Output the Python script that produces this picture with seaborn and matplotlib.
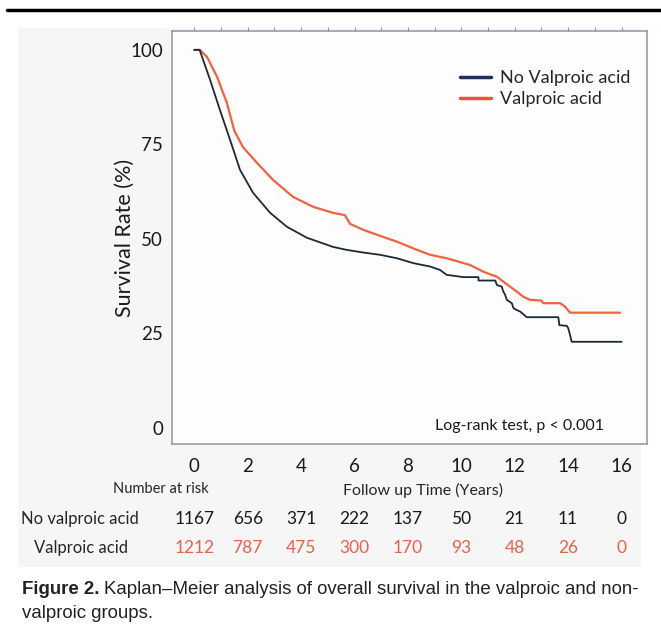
import numpy as np
import pandas as pd
import seaborn as sns
import matplotlib.pyplot as plt
from matplotlib.lines import Line2D
from matplotlib.patches import Rectangle

# curve corners (years, survival %)
t_no = [0, 0.2, 0.59, 0.96, 1.34, 1.71, 2.2, 2.84, 3.47, 4.22, 5.19, 5.71, 6.33, 6.96,
        7.58, 8.2, 8.83, 9.2, 9.45, 10.08, 10.64, 10.64, 11.27, 11.33, 11.51, 11.57, 11.64,
        11.7, 11.89, 11.95, 12.07, 12.2, 12.45, 13.63, 13.67, 13.95, 14.0, 14.07, 14.13, 16.0]
s_no = [100, 100, 92.1, 84.1, 76.2, 68.3, 62.2, 56.9, 53.2, 50.3, 47.9, 47.1, 46.4, 45.8,
        44.9, 43.6, 42.7, 41.8, 40.5, 39.9, 39.9, 39.0, 39.0, 37.8, 37.4, 36.1, 35.2,
        33.9, 33.0, 31.7, 31.2, 30.8, 29.3, 29.3, 27.2, 27.0, 26.4, 24.6, 22.8, 22.8]

t_vpa = [0, 0.21, 0.48, 0.85, 1.22, 1.5, 1.82, 2.35, 2.95, 3.7, 4.45, 5.19, 5.64, 5.83,
         6.33, 6.96, 7.58, 8.2, 8.83, 9.45, 10.08, 10.33, 10.83, 11.33, 11.57, 11.82, 12.07,
         12.32, 12.57, 13.0, 13.07, 13.7, 13.88, 14.07, 15.94]
s_vpa = [100, 100, 98.1, 92.9, 86.0, 78.6, 74.3, 70.1, 65.6, 61.1, 58.5, 56.9, 56.3, 54.0,
         52.4, 50.8, 49.3, 47.5, 45.8, 44.9, 43.6, 43.1, 41.3, 40.0, 38.7, 37.4, 36.1,
         34.7, 33.9, 33.7, 33.0, 33.0, 32.1, 30.5, 30.5]

risk_times = [0, 2, 4, 6, 8, 10, 12, 14, 16]
risk_no = [1167, 656, 371, 222, 137, 50, 21, 11, 0]
risk_vpa = [1212, 787, 475, 300, 170, 93, 48, 26, 0]

df_no = pd.DataFrame({'t': t_no, 's': s_no})
df_vpa = pd.DataFrame({'t': t_vpa, 's': s_vpa})

sns.set_style('white')
plt.rcParams['font.family'] = ['Lato', 'DejaVu Sans']

fig = plt.figure(figsize=(6.61, 6.27), dpi=100)
fig.add_artist(Rectangle((18 / 661, 1 - 566 / 627), 622 / 661, 538 / 627,
                         transform=fig.transFigure, color='#f6f6f6', zorder=0))
fig.add_artist(Line2D([7 / 661, 1], [1 - 10 / 627] * 2, transform=fig.transFigure,
                      color='black', lw=2.5))

ax = fig.add_axes([0.2602, 0.2919, 0.7182, 0.6587])
ax.set_facecolor('#fdfdfd')

c_no = '#1d2a36'
c_vpa = '#f0633f'
sns.lineplot(data=df_vpa, x='t', y='s', sort=False, estimator=None, color=c_vpa, lw=1.6, ax=ax)
sns.lineplot(data=df_no, x='t', y='s', sort=False, estimator=None, color=c_no, lw=1.3, ax=ax)

ax.set_xlim(-0.835, 16.94)
ax.set_ylim(-4.23, 105.0)
ax.set_xticks(risk_times)
ax.set_xticks(range(0, 17), minor=True)
ax.set_yticks([0, 25, 50, 75, 100])
ax.set_yticks([12.5, 37.5, 62.5, 87.5], minor=True)
ax.tick_params(axis='both', which='both', length=3, color='#8a98a8', width=0.8,
               labelsize=13.5, top=True, labelcolor='#1a1a1a')
ax.tick_params(axis='x', pad=7)
ax.set_xlabel('')
ax.set_ylabel('Survival Rate (%)', fontsize=15.5, labelpad=-3, color='#1a1a1a')
for sp in ax.spines.values():
    sp.set_color('#8696a8')
    sp.set_linewidth(1.1)

handles = [Line2D([], [], color='#1f2f63', lw=2.5), Line2D([], [], color='#e8553a', lw=2.5)]
ax.legend(handles, ['No Valproic acid', 'Valproic acid'], loc='upper right',
          bbox_to_anchor=(1.0, 0.945), frameon=False, fontsize=13,
          handlelength=1.7, handletextpad=0.5, labelspacing=0.3)
ax.text(0.553, 0.035, 'Log-rank test, p < 0.001', transform=ax.transAxes, fontsize=11.5,
        color='#1a1a1a')

# number at risk table
def fx(px):
    return px / 661

def fy(py):
    return 1 - py / 627

fig.text(fx(161), fy(489), 'Number at risk', ha='center', va='center', fontsize=10.5)
fig.text(fx(423), fy(490), 'Follow up Time (Years)', ha='center', va='center', fontsize=11.5)
fig.text(fx(80), fy(519), 'No valproic acid', ha='center', va='center', fontsize=12)
fig.text(fx(81), fy(548), 'Valproic acid', ha='center', va='center', fontsize=12)
for t, a, b in zip(risk_times, risk_no, risk_vpa):
    xf = fx(194.3 + t * 26.7)
    fig.text(xf, fy(519), str(a), ha='center', va='center', fontsize=12.5, color='#1a1a1a')
    fig.text(xf, fy(548), str(b), ha='center', va='center', fontsize=12.5, color='#e8624a')

cap_font = ['Liberation Sans', 'DejaVu Sans']
t1 = fig.text(fx(22), fy(589), 'Figure 2.', ha='left', va='center', fontsize=13.4,
              fontweight='bold', family=cap_font, color='#222222')
fig.canvas.draw()
bb = t1.get_window_extent()
fig.text((bb.x1 + 5) / 661, fy(589),
         'Kaplan–Meier analysis of overall survival in the valproic and non-',
         ha='left', va='center', fontsize=13.4, family=cap_font, color='#222222')
fig.text(fx(22), fy(613), 'valproic groups.', ha='left', va='center', fontsize=13.4,
         family=cap_font, color='#222222')

fig.savefig('out.png', dpi=100)
